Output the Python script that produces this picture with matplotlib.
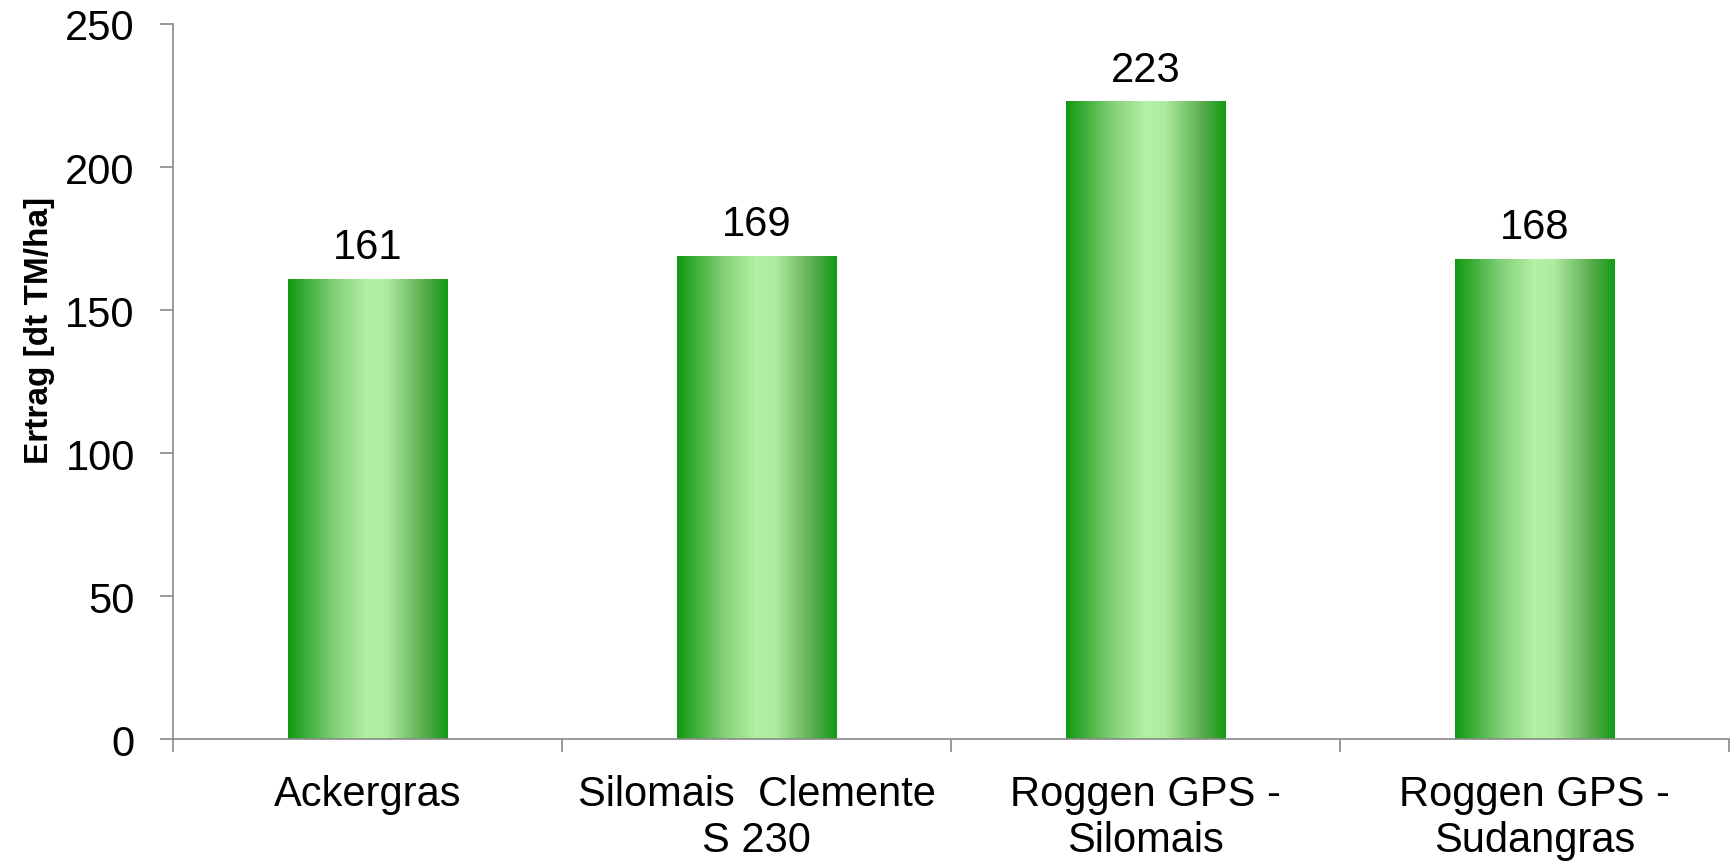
import matplotlib.pyplot as plt
import numpy as np
from matplotlib.colors import LinearSegmentedColormap

plt.rcParams["font.family"] = ["Liberation Sans", "DejaVu Sans"]

categories = ["Ackergras", "Silomais  Clemente\nS 230",
              "Roggen GPS -\nSilomais", "Roggen GPS -\nSudangras"]
ertrag = [161, 169, 223, 168]

GRID = "#898989"
BAR_W = 0.41
FS = 30

# dark green at the edges, pale green in the middle of each bar
shade = LinearSegmentedColormap.from_list(
    "bar", [(0.0, "#119912"), (0.3, "#86D27A"), (0.5, "#B4F1A5"),
            (0.62, "#AEEA9F"), (0.85, "#5AAE4F"), (1.0, "#149A14")])
ramp = np.linspace(0, 1, 256).reshape(1, -1)

fig = plt.figure(figsize=(17.35, 8.62), dpi=100)
ax = fig.add_axes([0.0997, 0.1415, 0.8968, 0.8295])

x = np.arange(len(categories))
bars = ax.bar(x, ertrag, width=BAR_W, color="none", edgecolor="none", zorder=2)
for b, v in zip(bars, ertrag):
    x0 = b.get_x()
    im = ax.imshow(ramp, cmap=shade, aspect="auto", zorder=2,
                   extent=(x0, x0 + b.get_width(), 0, v))
    im.set_clip_path(b)
    ax.text(b.get_x() + b.get_width() / 2, v + 4, str(v),
            ha="center", va="bottom", fontsize=FS)

ax.set_xlim(-0.5, len(categories) - 0.5)
ax.set_ylim(0, 250)
ax.set_yticks(range(0, 251, 50))
ax.set_xticks(x)
ax.set_xticklabels(categories, fontsize=FS, linespacing=1.2)
ax.set_xticks(np.arange(-0.5, len(categories), 1.0), minor=True)
ax.tick_params(axis="x", which="major", length=0, pad=25)
ax.tick_params(axis="x", which="minor", length=9.5, width=1.2, color=GRID)
ax.tick_params(axis="y", length=9.5, width=1.2, color=GRID, labelsize=FS, pad=18)
ax.set_ylabel("Ertrag [dt TM/ha]", fontsize=24, fontweight="bold")
ax.yaxis.set_label_coords(-0.076, 0.573)

for s in ("top", "right"):
    ax.spines[s].set_visible(False)
for s in ("left", "bottom"):
    ax.spines[s].set_color(GRID)
    ax.spines[s].set_linewidth(1.2)

fig.savefig("out.png", dpi=100)
